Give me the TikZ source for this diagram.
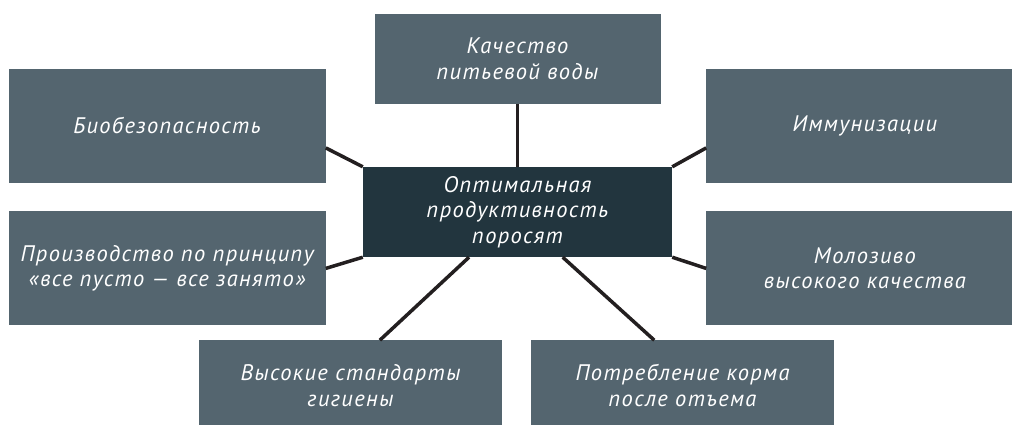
\documentclass[tikz,border=0pt]{standalone}
\usepackage{fontspec}
\setmainfont{PT Sans}[LetterSpace=6]
\definecolor{slatebox}{RGB}{84,101,111}
\definecolor{darkslate}{RGB}{34,53,62}
\definecolor{linkline}{RGB}{35,31,32}
\usetikzlibrary{positioning}

\begin{document}
\begin{tikzpicture}[x=1pt, y=-1pt,
        box/.style={fill=slatebox, text=white, inner sep=0pt, align=center,
                    minimum width=317pt, minimum height=114pt,
                    font=\fontsize{22.5}{25.5}\selectfont\itshape},
        link/.style={line width=3.5pt, linkline}
      ]
        \useasboundingbox (0,0) rectangle (1012,424);
        \clip (0,0) rectangle (1012,424);
        \node[box, fill=darkslate, minimum width=309pt, minimum height=90pt]
          (c) at (517.5,212) {Оптимальная\\продуктивность\\поросят};
        \node[box, minimum width=286pt, minimum height=90pt, above=63pt of c]
          (water) {Качество\\питьевой воды};
        \node[box, above left=-16pt and 37pt of c]
          (bio) {Биобезопасность};
        \node[box, below left=-46pt and 37pt of c]
          (allin) {Производство по принципу\\«все пусто — все занято»};
        \node[box, above right=-16pt and 34pt of c]
          (immun) {Иммунизации};
        \node[box, below right=-46pt and 34pt of c]
          (colost) {Молозиво\\высокого качества};
        \node[box, minimum width=303pt, minimum height=90pt,
              below=83pt of c, xshift=-167pt]
          (hyg) {Высокие стандарты\\гигиены};
        \node[box, minimum width=303pt, minimum height=90pt,
              below=83pt of c, xshift=165pt]
          (feed) {Потребление корма\\после отъема};
        \draw[link] (water) -- (c);
        \draw[link] (bio.-8.6) -- (c.north west);
        \draw[link] (allin.east) -- (c.south west);
        \draw[link] (immun.188) -- (c.north east);
        \draw[link] (colost.west) -- (c.south east);
        \draw[link] (hyg.57) -- (c.223);
        \draw[link] (feed.122) -- (c.-45);
      \end{tikzpicture}
\end{document}
